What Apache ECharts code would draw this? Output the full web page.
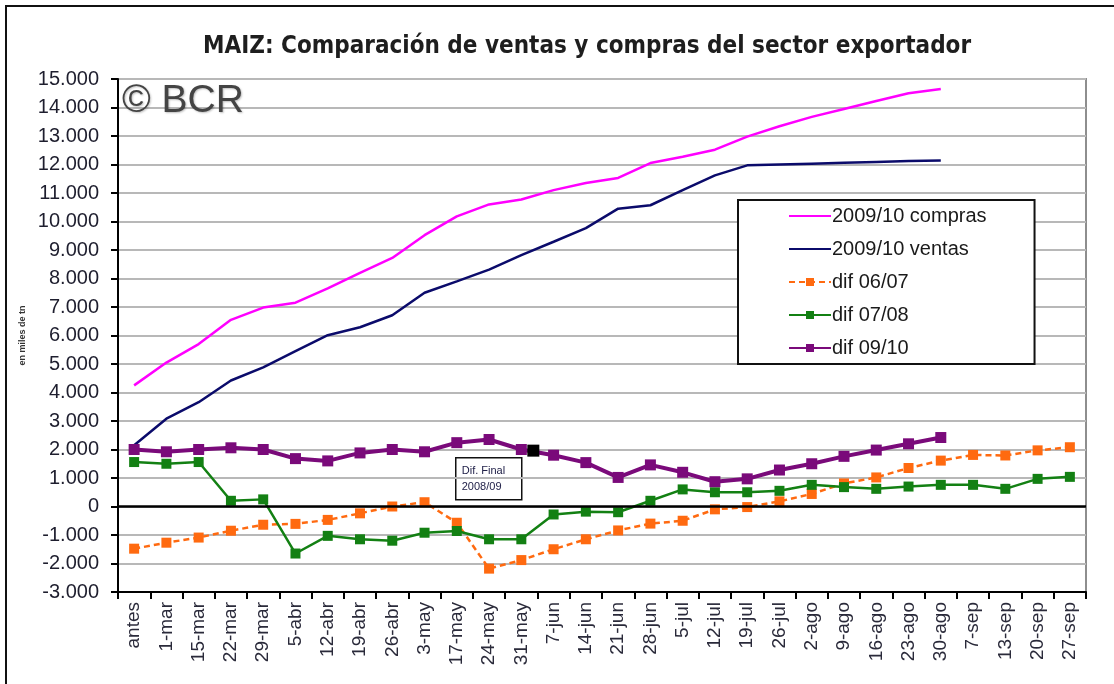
<!DOCTYPE html>
<html lang="es">
<head>
    <meta charset="UTF-8">
    <title>MAIZ</title>
    <script src="https://cdn.jsdelivr.net/npm/echarts@6/dist/echarts.min.js"></script>
    <style type="text/css">
        *{
            margin: 0;
            padding: 0;
        }
        html, body{
            background: #fff;
        }
        #chart{
            width: 1114px;
            height: 684px;
        }
    </style>
</head>
<body>
    <div id="chart"></div>
</body>
<script>
    // fechas del eje x
    var fechas = ['antes','1-mar','15-mar','22-mar','29-mar','5-abr','12-abr','19-abr','26-abr','3-may',
        '17-may','24-may','31-may','7-jun','14-jun','21-jun','28-jun','5-jul','12-jul','19-jul',
        '26-jul','2-ago','9-ago','16-ago','23-ago','30-ago','7-sep','13-sep','20-sep','27-sep'];

    // en miles de tn
    var compras0910 = [4250, 5050, 5700, 6550, 6980, 7150, 7650, 8200, 8720, 9520,
        10180, 10600, 10770, 11100, 11350, 11530, 12050, 12270, 12520, 12980,
        13340, 13670, 13950, 14230, 14500, 14650];
    var ventas0910 = [2150, 3080, 3660, 4420, 4880, 5450, 6010, 6290, 6710, 7500,
        7900, 8310, 8820, 9290, 9770, 10450, 10570, 11100, 11620, 11970,
        12000, 12030, 12060, 12090, 12120, 12140];
    var dif0607 = [-1480, -1270, -1090, -850, -640, -610, -470, -240, 0, 150,
        -570, -2180, -1880, -1500, -1150, -840, -600, -500, -100, -20,
        180, 440, 810, 1020, 1350, 1610, 1810, 1790, 1970, 2080];
    var dif0708 = [1560, 1500, 1560, 200, 250, -1650, -1030, -1150, -1200, -920,
        -860, -1150, -1150, -280, -180, -200, 200, 600, 500, 500,
        550, 760, 680, 620, 700, 760, 760, 620, 970, 1040];
    var dif0910 = [2000, 1920, 2000, 2060, 2000, 1680, 1600, 1880, 2000, 1920,
        2240, 2350, 2000, 1800, 1540, 1020, 1460, 1200, 870, 970,
        1280, 1500, 1760, 1980, 2200, 2420];
    // marca "Dif. Final 2008/09"
    var difFinalFecha = '31-may';
    var difFinal0809 = 1960;

    var fuente = "'Liberation Sans', Arial, sans-serif";

    function miles(v){
        var s = String(Math.abs(v)).replace(/\B(?=(\d{3})+(?!\d))/g, '.');
        return (v < 0 ? '-' : '') + s;
    }

    var myChart = echarts.init(document.getElementById('chart'));
    var option = {
        animation: false,
        backgroundColor: '#fff',
        title: {
            text: 'MAIZ: Comparación de ventas y compras del sector exportador',
            left: 198,
            top: 30,
            textStyle: {
                fontFamily: "'DejaVu Sans Condensed', 'DejaVu Sans', sans-serif",
                fontSize: 24,
                fontWeight: 'bold',
                color: '#1e1e1e'
            }
        },
        legend: {
            orient: 'vertical',
            left: 738,
            top: 200,
            backgroundColor: '#fff',
            borderColor: '#111',
            borderWidth: 2,
            padding: [6, 48, 6, 50],
            itemGap: 13,
            itemWidth: 42,
            itemHeight: 10,
            textStyle: {
                fontFamily: fuente,
                fontSize: 20,
                color: '#1a1a1a',
                padding: [0, 0, 0, -4]
            },
            data: [
                {name: '2009/10 compras', itemStyle: {opacity: 0}},
                {name: '2009/10 ventas', itemStyle: {opacity: 0}},
                'dif 06/07', 'dif 07/08', 'dif 09/10'
            ]
        },
        grid: {
            left: 118,
            right: 28,
            top: 79,
            bottom: 92,
            show: true,
            borderColor: '#8e8e8e',
            borderWidth: 2
        },
        xAxis: {
            type: 'category',
            data: fechas,
            boundaryGap: true,
            axisLine: {onZero: false, lineStyle: {color: '#000', width: 2}},
            axisTick: {show: true, length: 7, interval: 0, lineStyle: {color: '#000', width: 2}},
            axisLabel: {
                interval: 0,
                rotate: 90,
                margin: 10,
                fontFamily: fuente,
                fontSize: 19,
                color: '#2a2a3a'
            },
            splitLine: {show: false}
        },
        yAxis: {
            type: 'value',
            min: -3000,
            max: 15000,
            interval: 1000,
            name: 'en miles de tn',
            nameLocation: 'middle',
            nameRotate: 90,
            nameGap: 86,
            nameTextStyle: {fontFamily: fuente, fontSize: 9, fontWeight: 'bold', color: '#333'},
            axisLine: {show: true, lineStyle: {color: '#000', width: 2}},
            axisTick: {show: true, length: 7, lineStyle: {color: '#000', width: 2}},
            axisLabel: {
                margin: 19,
                fontFamily: fuente,
                fontSize: 20,
                color: '#1e1e2e',
                formatter: miles
            },
            splitLine: {lineStyle: {color: '#b8b8b8', width: 2}}
        },
        series: [
            {
                name: '2009/10 compras',
                type: 'line',
                data: compras0910,
                symbol: 'none',
                lineStyle: {color: '#ff00ff', width: 2.5},
                itemStyle: {color: '#ff00ff'}
            },
            {
                name: '2009/10 ventas',
                type: 'line',
                data: ventas0910,
                symbol: 'none',
                lineStyle: {color: '#0b0b6b', width: 2.5},
                itemStyle: {color: '#0b0b6b'},
                markLine: {
                    silent: true,
                    symbol: ['none', 'none'],
                    label: {show: false},
                    lineStyle: {color: '#000', width: 2.5, type: 'solid'},
                    data: [{yAxis: 0}]
                }
            },
            {
                name: 'dif 06/07',
                type: 'line',
                data: dif0607,
                symbol: 'rect',
                symbolSize: 10,
                lineStyle: {color: '#ff6a10', width: 2.5, type: [6, 4]},
                itemStyle: {color: '#ff6a10'}
            },
            {
                name: 'dif 07/08',
                type: 'line',
                data: dif0708,
                symbol: 'rect',
                symbolSize: 10,
                lineStyle: {color: '#138013', width: 2.5},
                itemStyle: {color: '#138013'}
            },
            {
                name: 'dif 09/10',
                type: 'line',
                data: dif0910,
                symbol: 'rect',
                symbolSize: 11,
                z: 3,
                lineStyle: {color: '#7a0a7a', width: 4},
                itemStyle: {color: '#7a0a7a'},
                markPoint: {
                    silent: true,
                    symbol: 'rect',
                    symbolSize: 12,
                    symbolOffset: [12, 0],
                    itemStyle: {color: '#000'},
                    label: {show: false},
                    data: [{coord: [difFinalFecha, difFinal0809]}]
                }
            }
        ],
        graphic: [
            {
                type: 'polyline',
                shape: {points: [[6, 684], [6, 6], [1114, 6]]},
                style: {stroke: '#111', lineWidth: 2, fill: null},
                silent: true
            },
            {
                type: 'text',
                left: 122,
                top: 82,
                z: 10,
                style: {
                    text: '© BCR',
                    fontFamily: fuente,
                    fontSize: 39,
                    fill: '#444',
                    textShadowColor: 'rgba(0,0,0,0.25)',
                    textShadowBlur: 2,
                    textShadowOffsetX: 1,
                    textShadowOffsetY: 1
                }
            },
            {
                type: 'group',
                left: 455,
                top: 457,
                z: 10,
                children: [
                    {
                        type: 'rect',
                        shape: {x: 0, y: 0, width: 66, height: 42},
                        style: {fill: '#fff', stroke: '#111', lineWidth: 1.5}
                    },
                    {
                        type: 'text',
                        x: 6,
                        y: 5,
                        style: {
                            text: 'Dif. Final\n2008/09',
                            fontFamily: fuente,
                            fontSize: 11,
                            lineHeight: 16,
                            fill: '#22224a'
                        }
                    }
                ]
            }
        ]
    };
    myChart.setOption(option);
</script>
</html>
